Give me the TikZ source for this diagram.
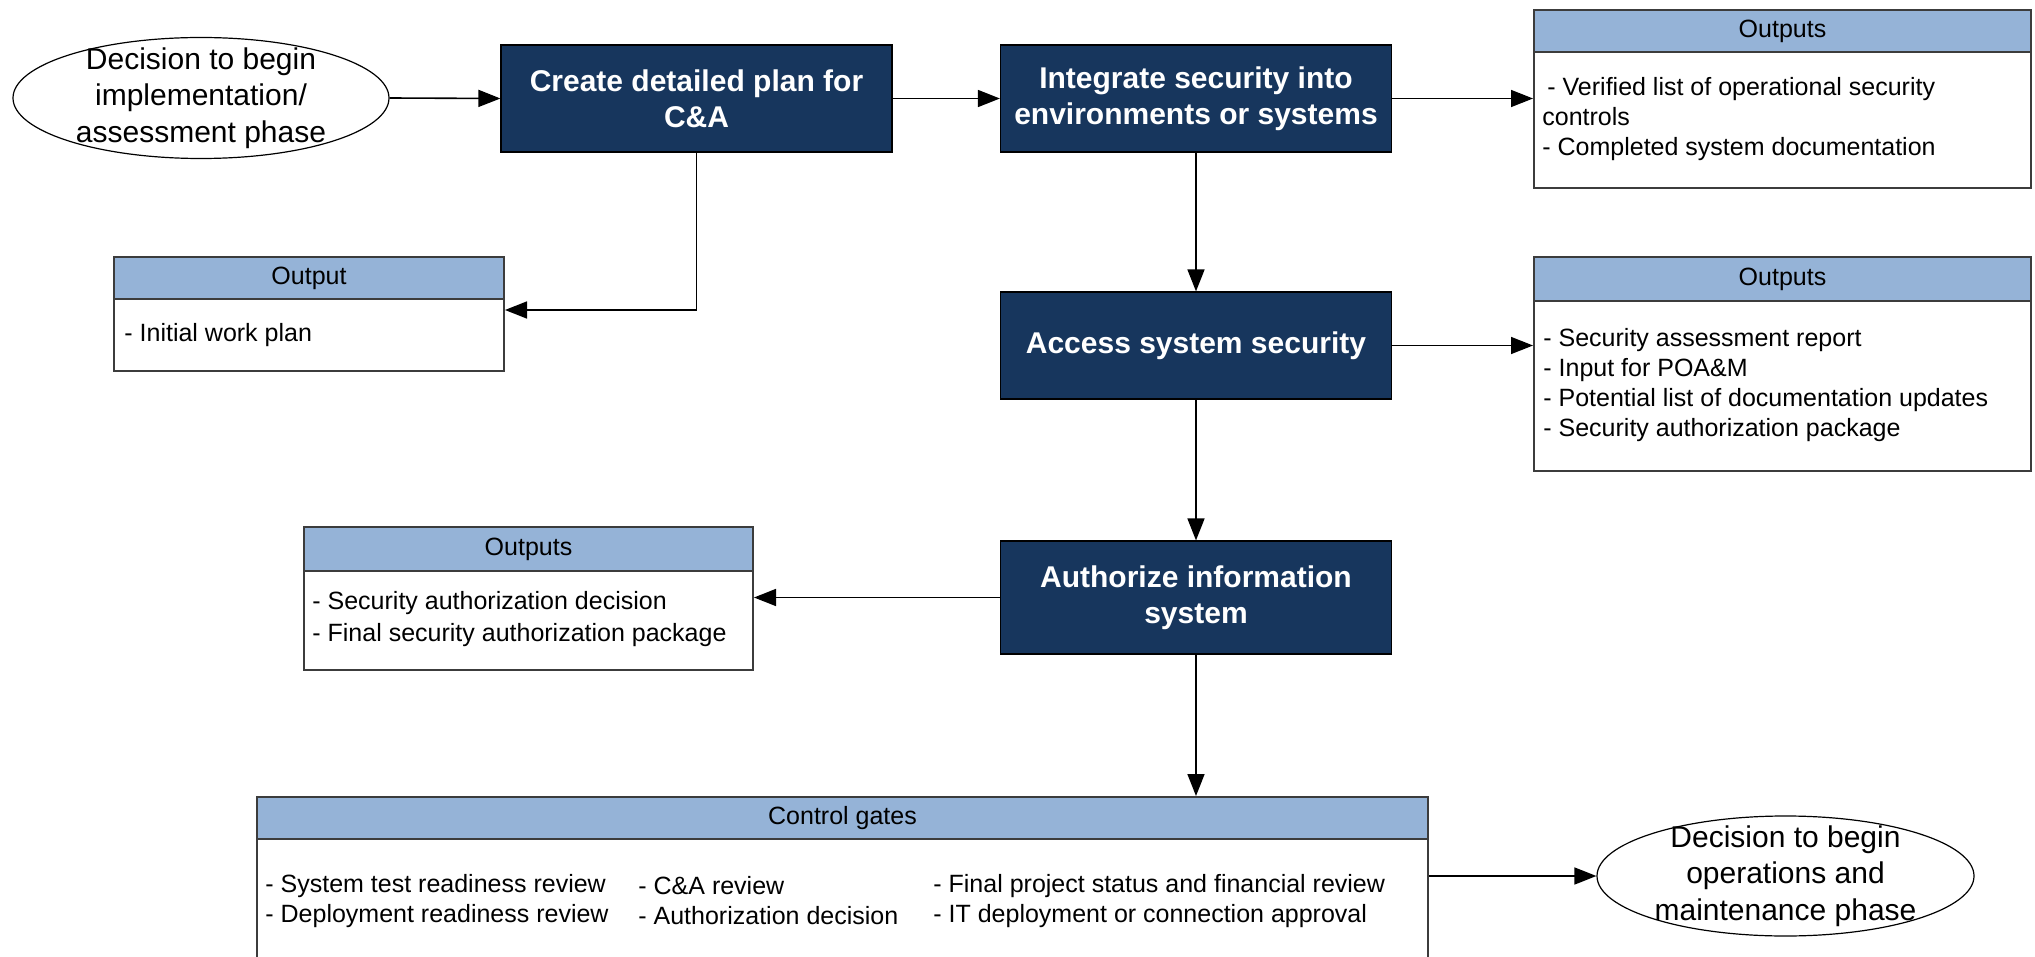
\documentclass[tikz,border=0pt]{standalone}
\usepackage{fontspec}
\setmainfont{Liberation Sans}
\usetikzlibrary{arrows.meta,shapes.geometric}
\definecolor{navy}{RGB}{23,54,93}
\definecolor{hdrblue}{RGB}{149,179,215}
\definecolor{edge}{RGB}{60,60,60}
\begin{document}
\begin{tikzpicture}[x=0.5pt,y=-0.5pt,
  stepbox/.style={draw=black, line width=0.6pt, fill=navy, text=white,
    font=\fontsize{15}{18}\selectfont\bfseries, align=center, inner sep=0pt,
    minimum width=195.5pt, minimum height=53.5pt},
  phase/.style={ellipse, draw=black, line width=0.6pt, fill=white, inner sep=0pt},
  phasetext/.style={font=\fontsize{15}{18.2}\selectfont, align=center, inner sep=0pt},
  hdr/.style={draw=edge, line width=1pt, fill=hdrblue, inner sep=0pt,
    font=\fontsize{12.5}{15}\selectfont},
  bodybox/.style={draw=edge, line width=1pt, fill=white, inner sep=0pt},
  bodytext/.style={font=\fontsize{12.5}{15}\selectfont, align=left, inner sep=0pt, anchor=west},
  conn/.style={draw=black, line width=0.8pt, -{Triangle[length=11pt,width=8.5pt]}}
]
\clip (0,0) rectangle (2035,957);
\fill[white] (0,0) rectangle (2035,957);

% process steps
\node[stepbox] (create) at (696.5,98.5) {Create detailed plan for\\C\&A};
\node[stepbox] (integ) at (1196,98.5) {Integrate security into\\environments or systems};
\node[stepbox] (access) at (1196,345.5) {Access system security};
\node[stepbox, minimum height=56.5pt] (auth) at (1196,597.5) {Authorize information\\system};

% phase boundaries
\node[phase, minimum width=188pt, minimum height=60.5pt] (start) at (201,98) {};
\node[phasetext] (starttext) at (start.center) {Decision to begin\\implementation/\\assessment phase};
\node[phase, minimum width=188.5pt, minimum height=60pt] (finish) at (1785.5,876) {};
\node[phasetext] (finishtext) at (finish.center) {Decision to begin\\operations and\\maintenance phase};

% output boxes
\node[hdr, minimum width=195pt, minimum height=21pt] (o0head) at (309,278) {Output};
\node[bodybox, minimum width=195pt, minimum height=36pt] (o0body) at (309,335) {};
\node[bodytext] (o0text) at (124,335) {- Initial work plan};

\node[hdr, minimum width=248.5pt, minimum height=21pt] (o1head) at (1782.5,31) {Outputs};
\node[bodybox, minimum width=248.5pt, minimum height=68pt] (o1body) at (1782.5,120) {};
\node[bodytext] (o1text) at (1542,119) {\hspace*{2.5pt}- Verified list of operational security\\controls\\- Completed system documentation};

\node[hdr, minimum width=248.5pt, minimum height=22pt] (o2head) at (1782.5,279) {Outputs};
\node[bodybox, minimum width=248.5pt, minimum height=85pt] (o2body) at (1782.5,386) {};
\node[bodytext] (o2text) at (1543,385) {- Security assessment report\\- Input for POA\&M\\- Potential list of documentation updates\\- Security authorization package};

\node[hdr, minimum width=224.5pt, minimum height=22pt] (o3head) at (528.5,549) {Outputs};
\node[bodybox, minimum width=224.5pt, minimum height=49.5pt] (o3body) at (528.5,620.5) {};
\node[bodytext, font=\fontsize{12.5}{16}\selectfont] (o3text) at (312,619) {- Security authorization decision\\- Final security authorization package};

% control gates
\node[hdr, minimum width=585.5pt, minimum height=21pt] (cghead) at (842.5,818) {Control gates};
\node[bodybox, minimum width=585.5pt, minimum height=80.5pt] (cgbody) at (842.5,919.5) {};
\node[bodytext] (cgcola) at (265,901) {- System test readiness review\\- Deployment readiness review};
\node[bodytext] (cgcolb) at (638,901) {- C\&A review\\- Authorization decision};
\node[bodytext] (cgcolc) at (933,901) {- Final project status and financial review\\- IT deployment or connection approval};

% connectors
\draw[conn] (start.east) -- (create.west);
\draw[conn] (create.east) -- (integ.west);
\draw[conn] (integ.east) -- (integ.east -| o1body.west);
\draw[conn] (create.south) |- ([yshift=12.5pt]o0body.east);
\draw[conn] (integ.south) -- (access.north);
\draw[conn] (access.east) -- (access.east -| o2body.west);
\draw[conn] (access.south) -- (auth.north);
\draw[conn] (auth.west) -- (auth.west -| o3body.east);
\draw[conn] (auth.south) -- (auth.south |- cghead.north);
\draw[conn] (finish.west -| cgbody.east) -- (finish.west);
\end{tikzpicture}
\end{document}
